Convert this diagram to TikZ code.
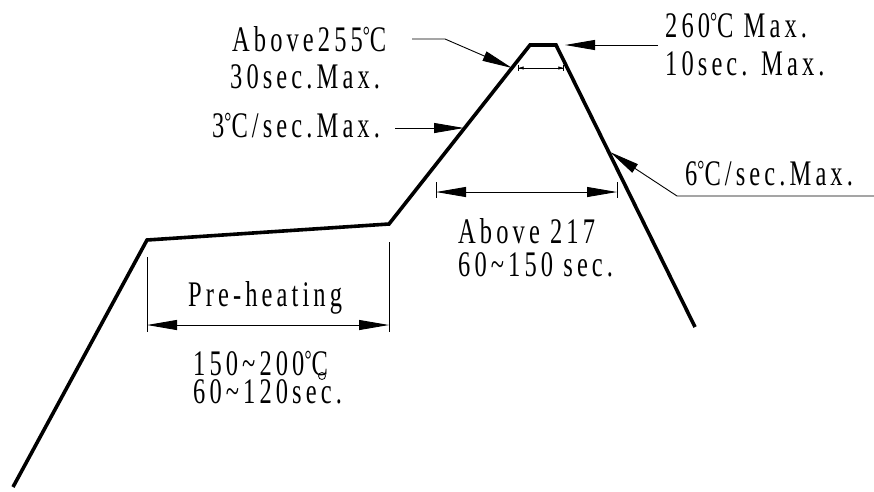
\documentclass[tikz,border=0pt]{standalone}
\usepackage{fontspec}
\usetikzlibrary{arrows.meta}
\newfontfamily\nhanfont[FakeStretch=0.68,LetterSpace=11.4]{Liberation Serif}
\newcommand{\doC}{\raisebox{7pt}{\fontsize{26}{26}\selectfont°}C}

\begin{document}
\begin{tikzpicture}[x=1pt,y=-1pt,
		duongnhiet/.style={line width=3.6pt},
		kichthuoc/.style={line width=0.9pt},
		chu/.style={font=\nhanfont\fontsize{36}{36}\selectfont,inner sep=0pt,anchor=base west},
		muiten/.style={-{Triangle[length=30pt,width=10pt]}},
		haimuiten/.style={{Triangle[length=30pt,width=10pt]}-{Triangle[length=30pt,width=10pt]}}]
			\useasboundingbox (0,0) rectangle (874,491);
			\coordinate (P0) at (13,487);
			\coordinate (P1) at (147,240);
			\coordinate (P2) at (389,224);
			\coordinate (P3) at (530,45);
			\coordinate (P4) at (556,45);
			\coordinate (P5) at (695,327);
			\draw[duongnhiet]  (P0)-- (P1)-- (P2)-- (P3)-- (P4)-- (P5);
			\node[chu] (A1) at (232,51) {Above255\doC};
			\node[chu] (A2) at (230,88) {30sec.Max.};
			\node[chu] (B1) at (212,137) {3\doC/sec.Max.};
			\node[chu] (C1) at (665,37) {260\doC{} Max.};
			\node[chu] (C2) at (665,75) {10sec. Max.};
			\node[chu] (D1) at (685,185) {6\doC/sec.Max.};
			\node[chu] (E1) at (458,243) {Above 217};
			\node[chu] (E2) at (458,276) {60\textasciitilde150 sec.};
			\node[chu] (F1) at (188,306) {Pre-heating};
			\node[chu] (F2) at (193,375) {150\textasciitilde200\doC};
			\node[chu] (F3) at (193,403) {60\textasciitilde120sec.};
			\draw[line width=0.8pt]  (322,376) circle (3.5);
			\coordinate (a1) at (412,39);
			\coordinate (a2) at (445,39);
			\coordinate (a3) at (512,68);
			\draw[kichthuoc,muiten]  (a1)-- (a2)-- (a3);
			\coordinate (b1) at (395,128);
			\coordinate (b2) at (464,128);
			\draw[kichthuoc,muiten]  (b1)-- (b2);
			\coordinate (c1) at (658,45);
			\coordinate (c2) at (565,45);
			\draw[kichthuoc,muiten]  (c1)-- (c2);
			\coordinate (d1) at (874,196);
			\coordinate (d2) at (677,196);
			\coordinate (d3) at (610,152);
			\draw[kichthuoc,muiten]  (d1)-- (d2)-- (d3);
			\coordinate (g1) at (518,68);
			\coordinate (g2) at (564,68);
			\draw[line width=0.6pt,{Bar[width=6pt]Triangle[length=5pt,width=3pt]}-{Triangle[length=5pt,width=3pt]Bar[width=6pt]}]  (g1)-- (g2);
			\coordinate (e1) at (436,192);
			\coordinate (e2) at (617,192);
			\draw[kichthuoc]  (436,182)-- (436,198);
			\draw[kichthuoc]  (617,182)-- (617,198);
			\draw[kichthuoc,haimuiten]  (e1)-- (e2);
			\coordinate (f1) at (147,325);
			\coordinate (f2) at (389,325);
			\draw[kichthuoc]  (147,257)-- (147,332);
			\draw[kichthuoc]  (389,242)-- (389,332);
			\draw[kichthuoc,haimuiten]  (f1)-- (f2);
		\end{tikzpicture}
\end{document}
